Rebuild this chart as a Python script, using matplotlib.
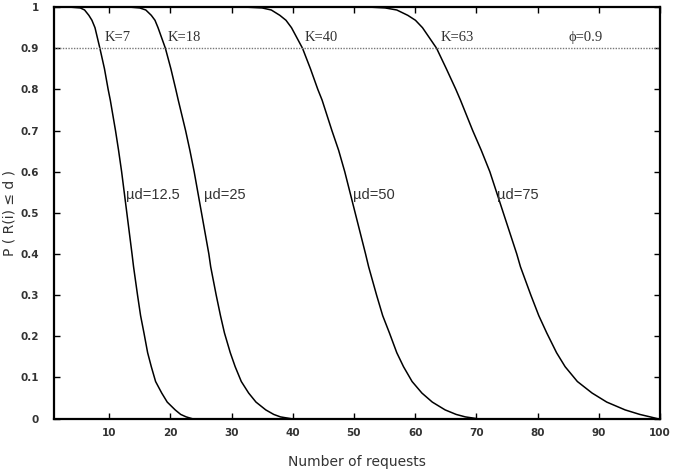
import matplotlib
matplotlib.use("Agg")
import matplotlib.pyplot as plt
import numpy as np

# values
prob = [1.0, 0.998, 0.993, 0.98, 0.968, 0.95, 0.9, 0.85, 0.8, 0.774, 0.7, 0.652, 0.6, 0.5,
        0.4, 0.369, 0.3, 0.25, 0.208, 0.16, 0.126, 0.09, 0.062, 0.04, 0.021, 0.01, 0.004, 0.0]
req_12 = [3.6, 5.3, 6.0, 6.7, 7.2, 7.7, 8.5, 9.25, 9.85, 10.2, 11.05, 11.55, 12.05, 12.9,
          13.75, 14.0, 14.65, 15.15, 15.7, 16.3, 16.9, 17.6, 18.6, 19.5, 20.8, 21.7, 22.6, 23.5]
req_25 = [13.4, 15.0, 16.0, 16.9, 17.5, 18.0, 19.2, 20.1, 20.9, 21.3, 22.5, 23.2, 23.9, 25.1,
          26.3, 26.6, 27.5, 28.2, 28.85, 29.8, 30.6, 31.6, 32.8, 34.0, 35.6, 36.9, 38.0, 39.6]
req_50 = [32.3, 35.0, 36.5, 37.9, 38.9, 39.8, 41.6, 42.9, 44.1, 44.8, 46.4, 47.5, 48.5, 50.2,
          51.9, 52.4, 53.7, 54.7, 55.8, 57.0, 58.1, 59.5, 61.1, 62.8, 64.9, 66.7, 68.2, 70.0]
req_75 = [52.6, 55.1, 57.0, 58.8, 60.05, 61.2, 63.5, 65.1, 66.65, 67.4, 69.4, 70.8, 72.2, 74.4,
          76.6, 77.2, 78.9, 80.2, 81.5, 83.1, 84.5, 86.5, 88.9, 91.3, 94.3, 96.7, 98.4, 99.5]

curves = [req_12, req_25, req_50, req_75]
mu_labels = ["\u00b5d=12.5", "\u00b5d=25", "\u00b5d=50", "\u00b5d=75"]
mu_pos = [12.8, 25.5, 49.9, 73.4]
k_labels = ["K=7", "K=18", "K=40", "K=63", "\u03d5=0.9"]
k_pos = [9.3, 19.5, 42.0, 64.1, 85.0]
phi = 0.9

fig = plt.figure(figsize=(6.73, 4.74), dpi=100)
ax = fig.add_axes([0.0802, 0.117, 0.9005, 0.868])

for xs in curves:
    ax.plot(xs, prob, color="black", lw=1.1, solid_joinstyle="round")

ax.axhline(phi, color="#777777", lw=1.0, ls=(0, (1, 1)))

for lab, x in zip(k_labels, k_pos):
    ax.text(x, 0.927, lab, family="Liberation Serif", fontsize=10.5,
            color="#333333", va="center", ha="left")
for lab, x in zip(mu_labels, mu_pos):
    ax.text(x, 0.543, lab, family="Liberation Sans", fontsize=10.5,
            color="#333333", va="center", ha="left")

ax.set_xlim(1, 100)
ax.set_ylim(0, 1)
ax.set_xticks(np.arange(10, 101, 10))
ax.set_yticks(np.round(np.arange(0, 1.01, 0.1), 1))
ax.set_yticklabels(["0"] + [f"{v:.1f}" for v in np.arange(0.1, 0.95, 0.1)] + ["1"])
ax.tick_params(direction="in", top=True, right=True, length=4, width=1,
               labelsize=7.5)
ax.tick_params(axis="y", pad=11)
ax.tick_params(axis="x", pad=7)
for lab in ax.get_xticklabels() + ax.get_yticklabels():
    lab.set_fontweight("bold")
    lab.set_color("#333333")
for sp in ax.spines.values():
    sp.set_linewidth(1.6)

ax.set_xlabel("Number of requests", fontsize=10, color="#333333", labelpad=12)
ax.set_ylabel("P ( R(i) \u2264 d )", fontsize=10, color="#333333")
ax.yaxis.set_label_coords(-0.062, 0.5)

fig.savefig("out.png", dpi=100)
